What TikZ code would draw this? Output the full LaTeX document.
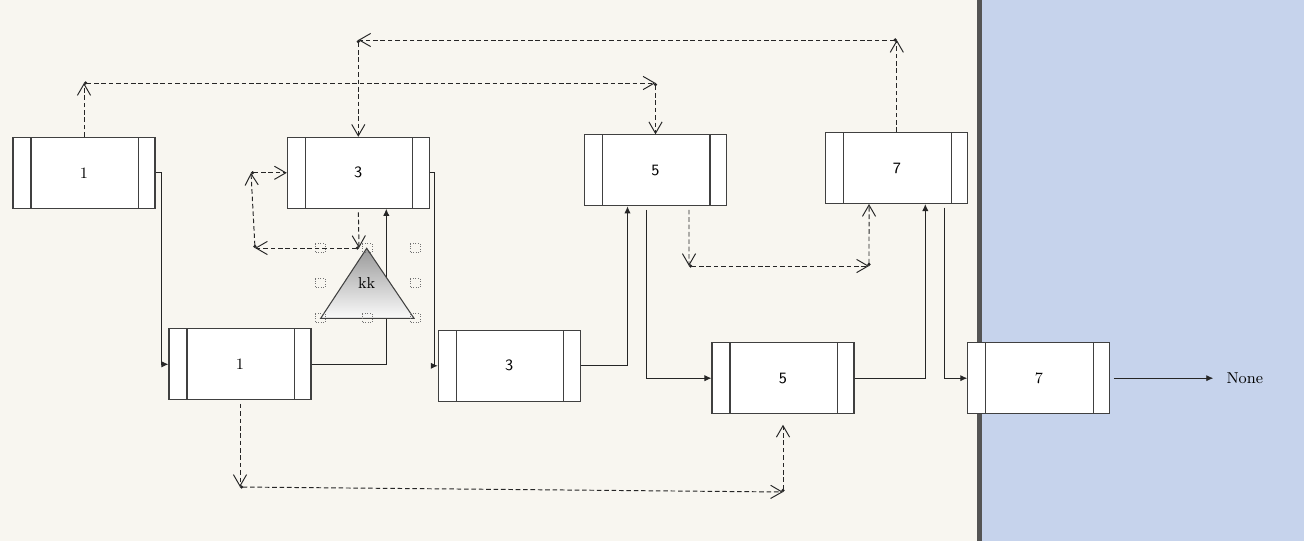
\documentclass[tikz,border=0pt]{standalone}
\usepackage{tikz}
\usetikzlibrary{arrows.meta, positioning}
\definecolor{canvas_bg}{HTML}{F8F6F0}
\definecolor{panel_bg}{HTML}{C6D3EC}
\definecolor{divider}{HTML}{545454}
\tikzset{
    list_node/.style={rectangle, minimum width=2.84cm, minimum height=1.42cm, inner sep=0pt, text centered, draw=black!75, line width=0.6pt, fill=white, font=\small,
        path picture={
            \draw[black!75, line width=0.6pt] ([xshift=0.36cm]path picture bounding box.north west) -- ([xshift=0.36cm]path picture bounding box.south west);
            \draw[black!75, line width=0.6pt] ([xshift=-0.33cm]path picture bounding box.north east) -- ([xshift=-0.33cm]path picture bounding box.south east);
        }},
    sans_text/.style={font=\small\sffamily},
    arrow/.style={line width=0.55pt, draw=black!85, -{Latex[length=4pt,width=3.6pt]}},
    dashed_arrow/.style={line width=0.55pt, draw=black!85, dash pattern=on 2.6pt off 1.6pt, -{Straight Barb[length=6.5pt,width=7.5pt]}},
    dashed_hop/.style={dashed_arrow, {Circle[length=1.8pt]}-{Straight Barb[length=6.5pt,width=7.5pt]}},
    handle/.style={densely dotted, draw=black!55, line width=0.4pt},
}

\begin{document}
\begin{tikzpicture}[x=0.02cm, y=-0.02cm]
      %%%%%%%%%%%%%%
      % BACKGROUND %
      %%%%%%%%%%%%%%
      \useasboundingbox (0,0) rectangle (1304,541);
      \fill[canvas_bg] (0,0) rectangle (977,541);
      \fill[divider] (977,0) rectangle (982,541);
      \fill[panel_bg] (982,0) rectangle (1304,541);

      %%%%%%%%%%%%%%%%
      % UPPER BLOCKS %
      %%%%%%%%%%%%%%%%
      \node (node_1_top) [list_node] at (84,172.8) {1};
      \node (node_3_top) [list_node, sans_text] at (358.3,172.8) {3};
      \node (node_5_top) [list_node, sans_text] at (655.5,170.3) {5};
      \node (node_7_top) [list_node, sans_text] at (896.8,168) {7};

      %%%%%%%%%%%%%%%%
      % LOWER BLOCKS %
      %%%%%%%%%%%%%%%%
      \node (node_1_bottom) [list_node] at (240,364.3) {1};
      \node (node_3_bottom) [list_node, sans_text] at (509.3,365.8) {3};
      \node (node_5_bottom) [list_node, sans_text] at (783,378.2) {5};
      \node (node_7_bottom) [list_node] at (1038.8,378.2) {7};
      \node (none_label) [right = 2.2cm of node_7_bottom, font=\small] {None};

      % solid chain
      \draw [arrow] (node_1_top.east) -- ++(6,0) |- (node_1_bottom.west);
      \draw [arrow] (node_1_bottom.east) -| ([xshift=0.56cm]node_3_top.south);
      \draw [arrow] (node_3_top.east) -- ++(5,0) |- (node_3_bottom.west);
      \draw [arrow] (node_3_bottom.east) -| ([xshift=-0.56cm]node_5_top.south);
      \draw [arrow, shorten <=2pt] ([xshift=-0.18cm]node_5_top.south) |- (node_5_bottom.west);
      \draw [arrow] (node_5_bottom.east) -| ([xshift=0.57cm]node_7_top.south);
      \draw [arrow, shorten <=2pt] ([xshift=0.95cm]node_7_top.south) |- (node_7_bottom.west);
      \draw [arrow, shorten <=2pt, shorten >=4pt] (node_7_bottom.east) -- (none_label.west);

      %%%%%%%%%%%%
      % TRIANGLE %
      %%%%%%%%%%%%
      \coordinate (tri_top) at (366.7,248.3);
      \coordinate (tri_left) at (320.7,318.3);
      \coordinate (tri_right) at (414,318.3);
      \shade [top color=black!40, bottom color=black!2, draw=black!75, line width=0.6pt]
            (tri_left) -- (tri_top) -- (tri_right) -- cycle;
      \node (kk_label) [font=\small] at (366.7,283.3) {kk};
      \foreach \hx/\hy in {320/248, 367/248, 415/248, 320/283, 415/283, 320/318, 367/318, 415/318}
            \draw [handle] (\hx-5,\hy-4.5) rectangle (\hx+5,\hy+4.5);

      % dashed links
      \coordinate (hop_a1) at (84,83);
      \coordinate (hop_a2) at (655.5,83);
      \draw [dashed_arrow] (node_1_top.north) -- (hop_a1);
      \draw [dashed_hop] (hop_a1) -- (hop_a2);
      \draw [dashed_hop] (hop_a2) -- (node_5_top.north);

      \coordinate (hop_b1) at (896.8,40);
      \coordinate (hop_b2) at (358.3,40);
      \draw [dashed_arrow] (node_7_top.north) -- (hop_b1);
      \draw [dashed_hop] (hop_b1) -- (hop_b2);
      \draw [dashed_hop] (hop_b2) -- (node_3_top.north);

      \coordinate (hop_c1) at (359,248);
      \coordinate (hop_c2) at (255,248);
      \coordinate (hop_c3) at (251,172.8);
      \draw [dashed_arrow, shorten <=2pt] (node_3_top.south) -- (hop_c1);
      \draw [dashed_hop] (hop_c1) -- (hop_c2);
      \draw [dashed_hop] (hop_c2) -- (hop_c3);
      \draw [dashed_hop] (hop_c3) -- (node_3_top.west);

      \coordinate (hop_d1) at (689,266);
      \coordinate (hop_d2) at (869,266);
      \draw [dashed_arrow, shorten <=2pt] ([xshift=0.67cm]node_5_top.south) -- (hop_d1);
      \draw [dashed_hop] (hop_d1) -- (hop_d2);
      \draw [dashed_hop] (hop_d2) -- ([xshift=-0.556cm]node_7_top.south);

      \coordinate (hop_e1) at (240,487);
      \coordinate (hop_e2) at (783,492);
      \draw [dashed_arrow, shorten <=2pt] (node_1_bottom.south) -- (hop_e1);
      \draw [dashed_hop] (hop_e1) -- (hop_e2);
      \draw [dashed_hop, shorten >=6pt] (hop_e2) -- (node_5_bottom.south);
\end{tikzpicture}
\end{document}
